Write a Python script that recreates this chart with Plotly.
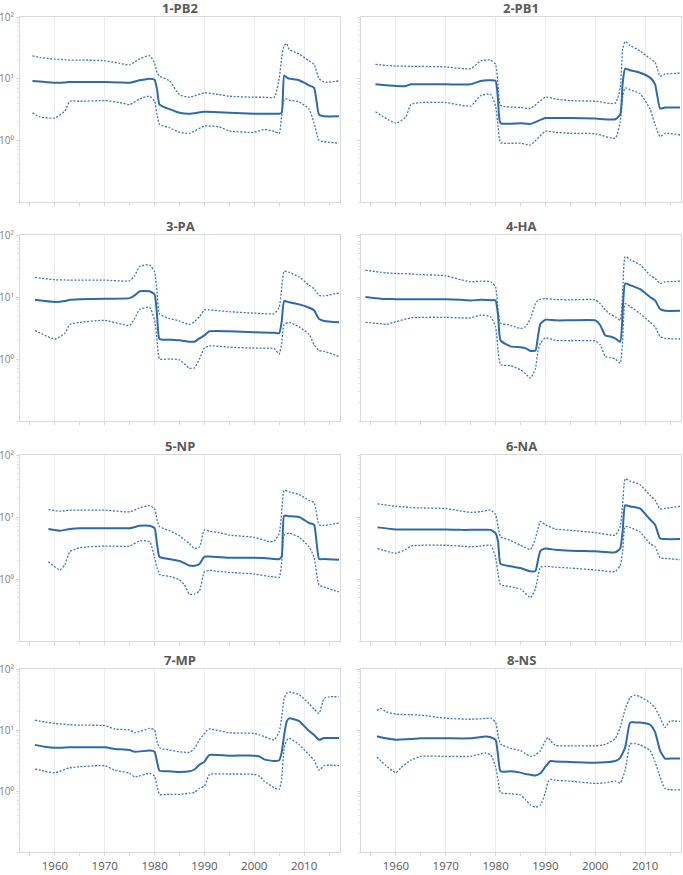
import plotly.graph_objects as go

# ---------------- data ----------------
TITLES = ["1-PB2", "2-PB1", "3-PA", "4-HA", "5-NP", "6-NA", "7-MP", "8-NS"]
YEAR_TICKS = [1960, 1970, 1980, 1990, 2000, 2010]
Y_TICK_VALS = [1, 10, 100]
Y_TICK_TEXT = ["10⁰", "10¹", "10²"]

# 1-PB2
PB2_YEARS = [1955.5, 1957, 1960, 1962, 1963, 1965, 1970, 1973, 1975, 1977, 1979, 1980, 1980.5, 1981, 1983, 1985, 1987, 1990, 1993, 1995, 2000, 2002, 2004, 2005, 2005.5, 2006, 2006.5, 2007, 2009, 2011, 2012, 2013, 2014, 2017]
PB2_MED = [9.2, 9.0, 8.6, 8.7, 8.8, 8.8, 8.8, 8.7, 8.6, 9.4, 10.0, 9.6, 6.7, 3.8, 3.2, 2.8, 2.7, 2.9, 2.85, 2.8, 2.7, 2.7, 2.7, 2.7, 2.8, 11.3, 10.5, 10.0, 9.4, 7.8, 7.1, 2.6, 2.45, 2.45]
PB2_HI = [23.5, 22.0, 20.7, 20.3, 20.0, 20.0, 19.5, 17.7, 16.7, 21.0, 23.5, 18.0, 12.5, 11.0, 9.2, 5.5, 5.0, 5.9, 5.5, 5.2, 5.0, 5.0, 5.0, 10.0, 22.0, 34.5, 37.0, 30.0, 25.0, 19.5, 17.0, 10.0, 8.8, 9.2]
PB2_LO = [2.8, 2.4, 2.3, 3.0, 4.3, 4.3, 4.4, 4.1, 3.8, 4.7, 5.2, 4.3, 2.6, 1.8, 1.6, 1.35, 1.3, 1.7, 1.65, 1.42, 1.35, 1.5, 1.4, 1.3, 2.5, 4.6, 4.7, 4.5, 4.2, 3.2, 1.9, 1.0, 0.95, 0.9]

# 2-PB1
PB1_YEARS = [1955.9, 1960, 1962, 1963, 1965, 1970, 1975, 1977, 1979, 1980, 1980.5, 1981, 1985, 1987, 1990, 1992, 1995, 2000, 2004, 2005, 2005.5, 2006, 2007, 2009, 2011, 2012, 2013, 2014, 2017]
PB1_MED = [8.1, 7.6, 7.6, 8.1, 8.1, 8.1, 8.1, 9.2, 9.4, 9.2, 4.5, 1.9, 1.9, 1.85, 2.3, 2.3, 2.3, 2.25, 2.2, 2.6, 8.5, 14.5, 13.7, 12.5, 10.4, 8.1, 3.3, 3.4, 3.4]
PB1_HI = [17.0, 16.0, 15.9, 15.8, 15.8, 15.5, 14.5, 19.5, 20.0, 17.0, 8.0, 3.7, 3.4, 3.3, 5.0, 4.7, 4.4, 4.3, 4.0, 7.0, 30.0, 40.0, 34.5, 28.0, 21.0, 18.4, 11.0, 11.8, 12.3]
PB1_LO = [2.9, 1.9, 2.4, 3.8, 4.1, 4.1, 3.6, 5.3, 5.6, 3.6, 1.7, 0.92, 0.9, 0.84, 1.4, 1.35, 1.3, 1.28, 1.08, 2.0, 5.0, 7.1, 6.6, 5.7, 3.2, 1.8, 1.15, 1.3, 1.22]

# 3-PA
PA_YEARS = [1956, 1960, 1962, 1963, 1965, 1970, 1975, 1976, 1977, 1979, 1980, 1980.5, 1981, 1983, 1985, 1987, 1988, 1989, 1990, 1991, 1995, 2000, 2004, 2005, 2005.5, 2006, 2007, 2009, 2011, 2012, 2013, 2014, 2017]
PA_MED = [9.0, 8.3, 8.6, 9.0, 9.2, 9.4, 9.6, 10.6, 12.4, 12.4, 11.0, 5.0, 2.1, 2.05, 2.0, 1.9, 1.9, 2.15, 2.4, 2.8, 2.8, 2.7, 2.65, 2.6, 4.0, 8.6, 8.2, 7.6, 6.7, 6.1, 4.4, 4.1, 3.9]
PA_HI = [20.7, 19.0, 18.8, 18.7, 18.7, 18.7, 18.3, 22.0, 31.0, 33.0, 25.6, 12.0, 5.3, 4.5, 4.1, 3.6, 4.0, 4.8, 6.2, 6.2, 5.8, 5.5, 5.4, 6.8, 14.0, 26.0, 25.0, 21.0, 15.5, 13.7, 10.6, 10.4, 11.6]
PA_LO = [2.9, 2.1, 2.6, 3.6, 3.9, 4.2, 3.5, 4.5, 6.3, 6.8, 4.2, 2.0, 1.0, 1.0, 0.97, 0.71, 0.72, 1.0, 1.5, 1.63, 1.55, 1.5, 1.47, 1.2, 1.8, 3.6, 3.9, 3.3, 2.5, 1.7, 1.37, 1.33, 1.1]

# 4-HA
HA_YEARS = [1953.9, 1957, 1958, 1960, 1963, 1965, 1970, 1973, 1975, 1977, 1979, 1980, 1980.5, 1981, 1983, 1985, 1986, 1987, 1988, 1988.5, 1989, 1990, 1992, 1995, 2000, 2001, 2002, 2003, 2004, 2005, 2005.5, 2006, 2007, 2009, 2011, 2012, 2013, 2014, 2017]
HA_MED = [10.0, 9.4, 9.3, 9.2, 9.2, 9.2, 9.2, 9.0, 8.8, 9.0, 8.9, 8.8, 5.0, 2.0, 1.6, 1.55, 1.5, 1.35, 1.37, 2.3, 3.7, 4.3, 4.2, 4.2, 4.2, 3.5, 2.4, 2.3, 2.15, 1.9, 6.0, 16.5, 15.5, 13.4, 10.0, 8.8, 6.4, 6.0, 6.0]
HA_HI = [27.0, 25.0, 24.5, 24.0, 23.5, 23.0, 22.0, 19.0, 17.6, 18.0, 17.6, 14.5, 6.0, 3.8, 3.5, 3.1, 3.3, 4.5, 7.8, 8.8, 9.2, 9.4, 9.1, 9.0, 9.0, 7.8, 6.2, 5.3, 4.8, 4.2, 12.0, 45.0, 40.0, 33.0, 22.5, 20.0, 16.5, 17.5, 18.0]
HA_LO = [3.9, 3.7, 3.6, 4.0, 4.6, 4.7, 4.7, 4.6, 4.6, 5.1, 4.8, 3.3, 1.4, 0.81, 0.78, 0.67, 0.58, 0.49, 0.7, 1.35, 1.8, 2.2, 2.0, 1.97, 1.95, 1.7, 1.1, 1.05, 1.0, 0.86, 2.0, 7.8, 7.0, 5.4, 3.9, 3.3, 2.3, 2.15, 2.1]

# 5-NP
NP_YEARS = [1958.7, 1961, 1962, 1963, 1965, 1970, 1975, 1977, 1979, 1980, 1980.5, 1981, 1983, 1985, 1986, 1987, 1988, 1989, 1990, 1991, 1993, 1995, 2000, 2003, 2004, 2005, 2005.5, 2006, 2007, 2009, 2011, 2012, 2013, 2014, 2017]
NP_MED = [6.4, 6.0, 6.2, 6.4, 6.6, 6.6, 6.6, 7.2, 7.2, 6.6, 3.6, 2.26, 2.1, 1.95, 1.8, 1.65, 1.63, 1.75, 2.3, 2.3, 2.25, 2.2, 2.2, 2.15, 2.1, 2.1, 2.3, 10.5, 10.3, 10.0, 8.0, 7.5, 2.1, 2.1, 2.05]
NP_HI = [13.2, 12.4, 12.6, 12.9, 12.9, 12.9, 12.1, 14.0, 15.3, 13.5, 9.0, 7.0, 6.0, 5.0, 4.3, 3.7, 3.1, 3.3, 6.2, 5.9, 5.6, 5.1, 4.7, 4.0, 4.1, 5.4, 12.0, 27.0, 25.5, 23.0, 18.5, 17.0, 7.5, 7.3, 8.0]
NP_LO = [1.9, 1.4, 1.7, 2.75, 3.2, 3.4, 3.4, 4.1, 4.0, 2.25, 1.5, 1.18, 1.1, 0.97, 0.8, 0.57, 0.57, 0.64, 1.3, 1.37, 1.32, 1.28, 1.2, 1.1, 1.08, 1.06, 1.8, 5.1, 5.5, 4.7, 3.3, 2.25, 0.8, 0.74, 0.62]

# 6-NA
NA_YEARS = [1956.3, 1960, 1962, 1963, 1965, 1970, 1973, 1975, 1977, 1979, 1980, 1980.5, 1981, 1983, 1985, 1987, 1988, 1988.5, 1989, 1990, 1992, 1995, 2000, 2004, 2005, 2005.5, 2006, 2007, 2009, 2011, 2012, 2013, 2014, 2017]
NA_MED = [6.8, 6.3, 6.3, 6.3, 6.3, 6.3, 6.2, 6.2, 6.2, 6.2, 5.5, 4.0, 1.75, 1.6, 1.5, 1.33, 1.35, 2.0, 2.85, 3.1, 2.95, 2.85, 2.8, 2.7, 3.1, 6.0, 15.4, 14.8, 13.7, 9.1, 7.5, 4.5, 4.4, 4.4]
NA_HI = [16.3, 14.9, 14.5, 14.2, 14.0, 13.7, 12.5, 11.9, 12.2, 13.0, 10.9, 7.0, 4.8, 4.2, 3.5, 3.0, 4.5, 6.5, 8.5, 7.5, 6.4, 6.1, 5.6, 5.1, 7.0, 16.0, 41.0, 38.0, 33.0, 22.3, 18.8, 13.5, 13.8, 14.9]
NA_LO = [3.1, 2.6, 3.0, 3.4, 3.5, 3.5, 3.4, 3.3, 3.4, 3.5, 2.25, 1.2, 0.81, 0.75, 0.69, 0.5, 0.7, 1.1, 1.55, 1.6, 1.55, 1.5, 1.4, 1.32, 1.65, 2.8, 7.0, 6.8, 5.7, 3.7, 3.3, 2.2, 2.15, 2.05]

# 7-MP
MP_YEARS = [1956, 1958, 1960, 1963, 1965, 1970, 1972, 1975, 1976, 1979, 1980, 1980.5, 1981, 1983, 1985, 1987, 1988, 1989, 1990, 1990.5, 1991, 1995, 2000, 2001, 2002, 2004, 2005, 2005.5, 2006, 2006.5, 2007, 2009, 2011, 2012, 2013, 2014, 2015, 2017]
MP_MED = [5.7, 5.3, 5.1, 5.2, 5.2, 5.2, 4.9, 4.7, 4.4, 4.6, 4.4, 3.0, 2.15, 2.1, 2.05, 2.1, 2.25, 2.7, 3.0, 3.5, 3.9, 3.8, 3.8, 3.7, 3.3, 3.1, 3.2, 4.3, 8.3, 13.7, 15.5, 14.0, 9.6, 8.3, 6.9, 7.4, 7.4, 7.4]
MP_HI = [14.5, 13.5, 12.8, 12.2, 12.0, 11.8, 10.4, 10.0, 9.0, 10.6, 10.0, 6.5, 5.1, 4.7, 4.4, 4.3, 5.0, 6.9, 8.8, 9.8, 10.4, 9.0, 8.8, 8.3, 7.8, 6.9, 9.4, 16.0, 33.0, 40.0, 42.0, 38.0, 27.0, 22.0, 18.7, 33.0, 35.0, 35.0]
MP_LO = [2.3, 2.1, 2.0, 2.4, 2.5, 2.6, 2.2, 1.95, 1.7, 1.95, 1.75, 1.2, 0.88, 0.88, 0.88, 0.92, 0.95, 1.1, 1.2, 1.5, 1.87, 1.9, 1.87, 1.75, 1.45, 1.13, 1.06, 1.6, 5.0, 6.8, 7.3, 5.8, 3.9, 3.2, 2.2, 2.6, 2.65, 2.6]

# 8-NS
NS_YEARS = [1956.2, 1957, 1958, 1960, 1961, 1963, 1965, 1970, 1975, 1978, 1979, 1980, 1980.5, 1981, 1983, 1985, 1986, 1987, 1988, 1989, 1990, 1990.5, 1991, 1992, 1995, 2000, 2002, 2004, 2005, 2006, 2007, 2008, 2009, 2011, 2012, 2013, 2014, 2015, 2017]
NS_MED = [7.9, 7.6, 7.3, 6.9, 7.0, 7.1, 7.3, 7.3, 7.3, 7.8, 7.6, 6.9, 3.8, 2.1, 2.1, 2.0, 1.9, 1.85, 1.8, 1.95, 2.5, 2.8, 3.1, 3.05, 3.0, 2.9, 2.95, 3.1, 3.5, 5.2, 13.3, 13.3, 13.3, 12.2, 9.2, 4.6, 3.4, 3.4, 3.4]
NS_HI = [21.0, 22.5, 20.0, 18.2, 18.0, 17.8, 17.5, 15.6, 15.0, 15.5, 15.6, 13.3, 8.0, 5.9, 5.0, 4.6, 4.1, 3.7, 3.9, 4.6, 6.7, 7.5, 6.7, 5.6, 5.5, 5.5, 5.8, 7.2, 11.0, 22.0, 34.0, 37.0, 35.0, 28.0, 23.0, 16.0, 11.0, 14.0, 13.8]
NS_LO = [3.6, 3.1, 2.6, 2.0, 2.4, 3.2, 3.7, 3.7, 3.7, 4.2, 3.9, 2.5, 1.5, 0.94, 0.9, 0.86, 0.72, 0.59, 0.54, 0.59, 0.95, 1.4, 1.55, 1.5, 1.45, 1.33, 1.36, 1.45, 1.35, 2.2, 5.9, 6.0, 5.7, 4.6, 3.0, 1.7, 1.1, 1.05, 1.04]

PANELS = [
    (PB2_YEARS, PB2_MED, PB2_LO, PB2_HI),
    (PB1_YEARS, PB1_MED, PB1_LO, PB1_HI),
    (PA_YEARS, PA_MED, PA_LO, PA_HI),
    (HA_YEARS, HA_MED, HA_LO, HA_HI),
    (NP_YEARS, NP_MED, NP_LO, NP_HI),
    (NA_YEARS, NA_MED, NA_LO, NA_HI),
    (MP_YEARS, MP_MED, MP_LO, MP_HI),
    (NS_YEARS, NS_MED, NS_LO, NS_HI),
]

# ---------------- layout geometry ----------------
W, H = 683, 875
COL_PX = [(20, 340), (361, 681)]
ROW_PX = [(17, 202), (235, 421), (455, 641), (669, 852)]

LINE_COLOR = "#2E6AA8"
DOT_COLOR = "#3F78B4"
AXIS_COLOR = "#D9D9D9"
GRID_COLOR = "#EDEDED"
TEXT_COLOR = "#595959"
FONT = "Open Sans, Liberation Sans, sans-serif"

fig = go.Figure()
annotations = []
layout_axes = {}

for i, (years, med, lo, hi) in enumerate(PANELS):
    r, c = divmod(i, 2)
    n = i + 1
    xa = "x" if n == 1 else f"x{n}"
    ya = "y" if n == 1 else f"y{n}"
    x0, x1 = COL_PX[c]
    y0, y1 = ROW_PX[r]
    xdom = [x0 / W, x1 / W]
    ydom = [1 - y1 / H, 1 - y0 / H]

    for vals, dash, width, color in [(hi, "2px,1.6px", 1.3, DOT_COLOR),
                                     (lo, "2px,1.6px", 1.3, DOT_COLOR),
                                     (med, "solid", 2.0, LINE_COLOR)]:
        fig.add_trace(go.Scatter(
            x=years, y=vals, mode="lines", xaxis=xa, yaxis=ya,
            line=dict(color=color, width=width, dash=dash, shape="spline", smoothing=0.5),
            showlegend=False, hoverinfo="skip",
        ))

    bottom = (r == 3)
    left = (c == 0)
    layout_axes["xaxis" if n == 1 else f"xaxis{n}"] = dict(
        domain=xdom, anchor=ya, range=[1953, 2017.2],
        tickvals=YEAR_TICKS, ticktext=[str(t) for t in YEAR_TICKS],
        showticklabels=bottom,
        ticks="outside", ticklen=3, tickcolor=AXIS_COLOR,
        minor=dict(dtick=5, tick0=1955, ticks="outside", ticklen=3, tickcolor=AXIS_COLOR, showgrid=False),
        showgrid=True, gridcolor=GRID_COLOR, gridwidth=1,
        showline=True, linecolor=AXIS_COLOR, linewidth=1, mirror=True,
        zeroline=False, automargin=False,
        tickfont=dict(family=FONT, size=11.5, color=TEXT_COLOR),
        fixedrange=True,
    )
    layout_axes["yaxis" if n == 1 else f"yaxis{n}"] = dict(
        domain=ydom, anchor=xa, type="log", range=[-1, 2],
        tickvals=Y_TICK_VALS, ticktext=Y_TICK_TEXT, showticklabels=left,
        ticks="outside", ticklen=3, tickcolor=AXIS_COLOR, showgrid=False,
        minor=dict(ticks="outside", ticklen=2, tickcolor="#E3E3E3", showgrid=False, dtick="D1"),
        showline=True, linecolor=AXIS_COLOR, linewidth=1, mirror=True,
        zeroline=False, automargin=False,
        tickfont=dict(family=FONT, size=10, color="#7F7F7F"),
        fixedrange=True,
    )
    annotations.append(dict(
        text=f"<b>{TITLES[i]}</b>", xref="paper", yref="paper",
        x=(xdom[0] + xdom[1]) / 2, y=1 - (y0 - 9) / H, xanchor="center", yanchor="middle",
        showarrow=False, font=dict(family=FONT, size=13, color=TEXT_COLOR),
    ))

fig.update_layout(
    width=W, height=H, margin=dict(l=0, r=0, t=0, b=0),
    paper_bgcolor="white", plot_bgcolor="white",
    annotations=annotations, showlegend=False,
    **layout_axes,
)

fig.write_html(
    "out.html",
    config={"displayModeBar": False},
    post_script="document.body.style.margin='0px'; document.body.style.overflow='hidden';",
)
